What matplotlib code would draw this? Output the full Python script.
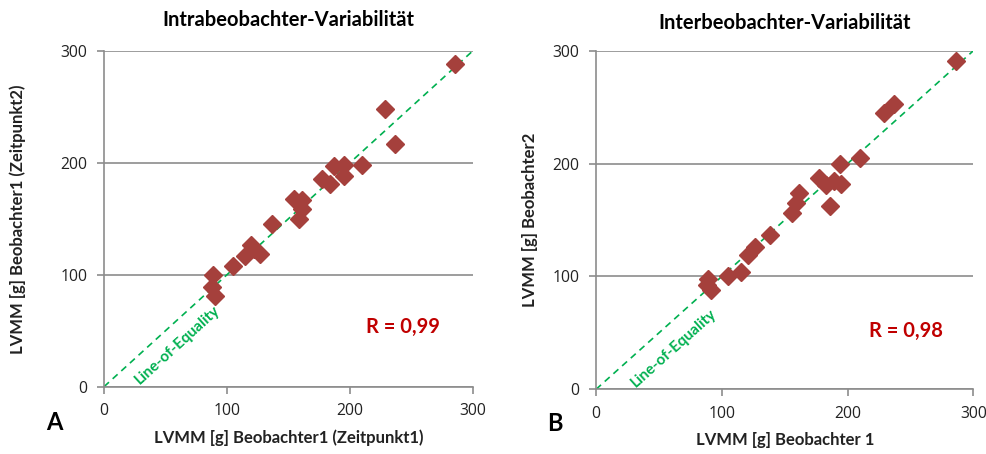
import numpy as np
import matplotlib

matplotlib.use("Agg")
import matplotlib.pyplot as plt

plt.rcParams["font.family"] = ["Lato", "DejaVu Sans"]

# Panel A: intra-observer (Zeitpunkt1 vs Zeitpunkt2)
intra_t1 = [286, 229, 237, 210, 187, 195, 195, 177, 184, 155, 161, 161, 159,
            137, 120, 122, 127, 115, 105, 89, 88, 90]
intra_t2 = [288, 248, 217, 198, 197, 198, 188, 186, 181, 168, 167, 159, 150,
            145, 127, 123, 119, 117, 108, 100, 89, 81]

# Panel B: inter-observer (Beobachter 1 vs Beobachter 2)
inter_b1 = [286, 237, 229, 210, 194, 177, 183, 189, 195, 186, 161, 159, 156,
            138, 126, 121, 115, 105, 89, 88, 91]
inter_b2 = [291, 253, 245, 205, 200, 187, 181, 185, 182, 162, 174, 165, 156,
            137, 126, 119, 104, 100, 98, 92, 88]

ticks = [0, 100, 200, 300]

MARKER = "#A5403C"
GREEN = "#00B050"
RED = "#C00000"
GRID = "#8C8C8C"

fig = plt.figure(figsize=(9.87, 4.54), dpi=100)

panels = [
    dict(rect=[0.1054, 0.1483, 0.3735, 0.7394], x=intra_t1, y=intra_t2,
         title="Intrabeobachter-Variabilität",
         xlabel="LVMM [g] Beobachter1 (Zeitpunkt1)",
         ylabel="LVMM [g] Beobachter1 (Zeitpunkt2)",
         r="R = 0,99", rpos=(243, 53), lpos=(60, 37), letter="A",
         letter_xy=(0.055, 0.07), title_y=0.955, xl_y=0.035, yl_x=0.018),
    dict(rect=[0.6039, 0.1425, 0.3823, 0.7458], x=inter_b1, y=inter_b2,
         title="Interbeobachter-Variabilität",
         xlabel="LVMM [g] Beobachter 1",
         ylabel="LVMM [g] Beobachter2",
         r="R = 0,98", rpos=(246, 52), lpos=(62, 36), letter="B",
         letter_xy=(0.562, 0.068), title_y=0.95, xl_y=0.03, yl_x=0.537),
]

for p in panels:
    ax = fig.add_axes(p["rect"])
    ax.set_xlim(0, 300)
    ax.set_ylim(0, 300)
    ax.set_xticks(ticks)
    ax.set_yticks(ticks)
    ax.yaxis.grid(True, color=GRID, linewidth=1.2)
    ax.set_axisbelow(True)
    for side in ("top", "right"):
        ax.spines[side].set_visible(False)
    for side in ("left", "bottom"):
        ax.spines[side].set_color(GRID)
        ax.spines[side].set_linewidth(1.2)
    ax.tick_params(direction="out", length=5, width=1.2, color=GRID,
                   labelsize=11.3, labelcolor="#222222", pad=7)
    for lab in ax.get_xticklabels() + ax.get_yticklabels():
        lab.set_fontfamily("Open Sans")

    ax.plot([0, 300], [0, 300], linestyle=(0, (4, 3)), color=GREEN,
            linewidth=1.2, zorder=2)
    ax.plot(p["x"], p["y"], linestyle="none", marker="D", markersize=9.5,
            color=MARKER, markeredgecolor=MARKER, zorder=3, clip_on=False)

    # angle of the 1:1 line on screen
    p0 = ax.transData.transform((0, 0))
    p1 = ax.transData.transform((300, 300))
    ang = np.degrees(np.arctan2(p1[1] - p0[1], p1[0] - p0[0]))
    ax.text(*p["lpos"], "Line-of-Equality", color=GREEN, fontsize=11,
            fontweight="bold", rotation=ang, rotation_mode="anchor",
            ha="center", va="center")
    ax.text(*p["rpos"], p["r"], color=RED, fontsize=14.5, fontweight="bold",
            ha="center", va="center")

    cx = p["rect"][0] + p["rect"][2] / 2
    fig.text(cx, p["title_y"], p["title"], fontsize=14.5, fontweight="bold",
             ha="center", va="center")
    fig.text(cx, p["xl_y"], p["xlabel"], fontsize=12, fontweight="bold",
             ha="center", va="center", color="#222222")
    fig.text(p["yl_x"], p["rect"][1] + p["rect"][3] / 2, p["ylabel"],
             fontsize=12, fontweight="bold", ha="center", va="center",
             rotation=90, color="#222222")
    fig.text(*p["letter_xy"], p["letter"], fontsize=17, fontweight="bold",
             ha="center", va="center")

fig.savefig("out.png", dpi=100)
